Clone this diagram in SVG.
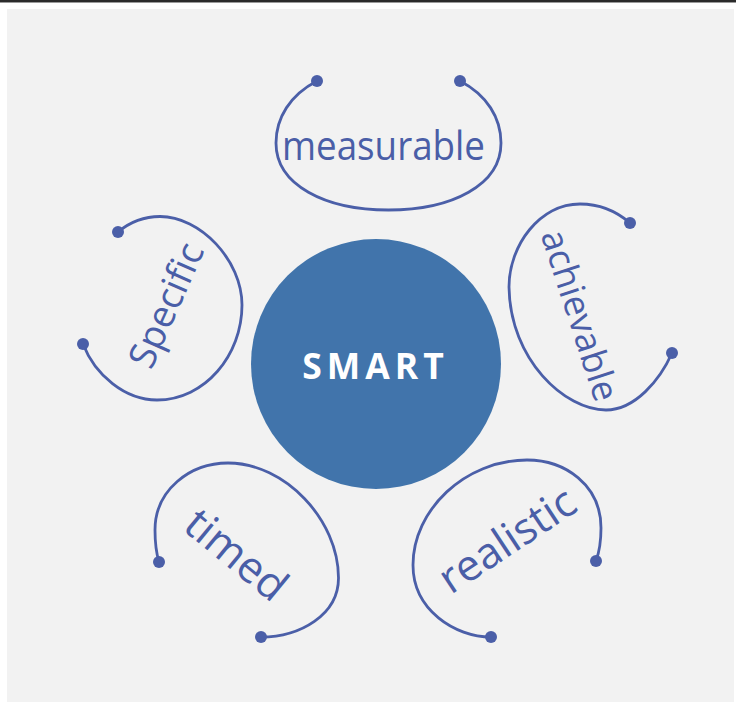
<svg xmlns="http://www.w3.org/2000/svg" width="736" height="702" viewBox="0 0 736 702">
  <style>
    .arc { fill: none; stroke: #4b5fa8; stroke-width: 2.8; stroke-linecap: round; }
    .dot { fill: #4b5fa8; }
    .lbl { font-family: "Open Sans", "Noto Sans", "Liberation Sans", sans-serif; fill: #4a5ea7; text-anchor: middle; }
    .core { font-family: "Open Sans", "Noto Sans", "Liberation Sans", sans-serif; font-weight: bold; fill: #ffffff; text-anchor: middle; letter-spacing: 5px; }
  </style>
  <rect x="0" y="0" width="736" height="702" fill="#ffffff"/>
  <rect x="0" y="0" width="736" height="2" fill="#2b2b2b"/>
  <rect x="0" y="2" width="736" height="1" fill="#9a9a9a"/>
  <rect x="7" y="9" width="727" height="693" fill="#f2f2f2"/>

  <g id="connectors">
    <path class="arc" d="M317,81 C290,95 276,118 276,143 C276,185 325,210 388.5,210 C452,210 501,185 501,143 C501,118 487,95 460,81"/>
    <path class="arc" d="M118,232 C130,222 145,216.5 160,216.5 C200,216.5 242,260 242,305 C242,355 205,400 157,400 C125,400 95,375 83,344"/>
    <path class="arc" d="M630,223 C615,210 598,204 580,204 C540,204 509,245 509,287 C510,360 565,410 606,410 C635,410 660,380 672,353"/>
    <path class="arc" d="M159,562 C156,552 155,540 155,530 C155,490 190,463 228,463 C285,463 338.5,520 338.5,578 C338.5,615 300,637 261,637"/>
    <path class="arc" d="M596,561 C600,550 601,540 601,528 C601,485 565,460 527,460 C465,460 413,510 413,565 C413,610 455,637 491,637"/>
  </g>

  <g id="smart">
    <circle cx="376" cy="364" r="125" fill="#4174ab"/>
    <text class="core" x="375.5" y="379" font-size="35.5">SMART</text>
  </g>

  <g id="measurable">
    <circle class="dot" cx="317" cy="81" r="6"/>
    <circle class="dot" cx="460" cy="81" r="6"/>
    <text class="lbl" x="383.5" y="160" font-size="40" textLength="203" lengthAdjust="spacingAndGlyphs">measurable</text>
  </g>

  <g id="specific">
    <circle class="dot" cx="118" cy="232" r="6"/>
    <circle class="dot" cx="83" cy="344" r="6"/>
    <text class="lbl" transform="translate(168,306) rotate(-66)" x="0" y="11" font-size="37.5">Specific</text>
  </g>

  <g id="achievable">
    <circle class="dot" cx="630" cy="223" r="6"/>
    <circle class="dot" cx="672" cy="353" r="6"/>
    <text class="lbl" transform="translate(577.5,316) rotate(72)" x="0" y="10" font-size="36">achievable</text>
  </g>

  <g id="timed">
    <circle class="dot" cx="159" cy="562" r="6"/>
    <circle class="dot" cx="261" cy="637" r="6"/>
    <text class="lbl" transform="translate(234.5,557) rotate(39.4)" x="0" y="12" font-size="43.5">timed</text>
  </g>

  <g id="realistic">
    <circle class="dot" cx="596" cy="561" r="6"/>
    <circle class="dot" cx="491" cy="637" r="6"/>
    <text class="lbl" transform="translate(508.7,542.3) rotate(-33.5)" x="0" y="12" font-size="43">realistic</text>
  </g>
</svg>
